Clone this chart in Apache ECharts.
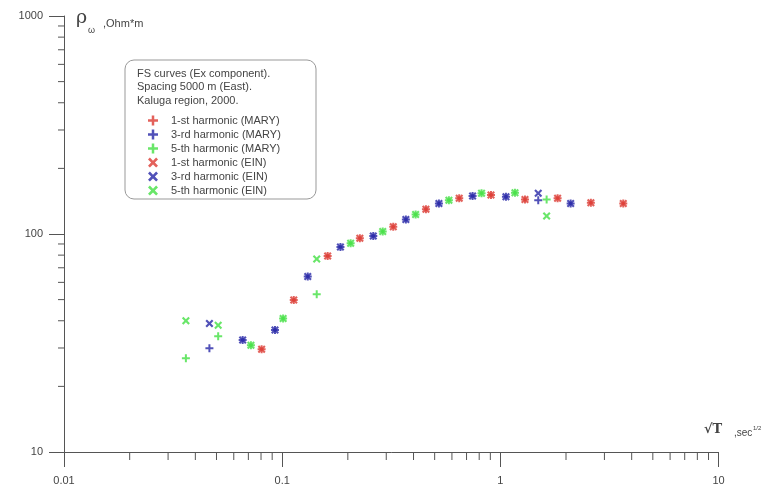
<!DOCTYPE html>
<html><head><meta charset="utf-8">
<script src="https://cdn.jsdelivr.net/npm/echarts@6/dist/echarts.min.js"></script>
<style>html,body{margin:0;padding:0;background:#fff}#c{width:770px;height:494px}</style>
</head><body><div id="c"></div>
<script>
// ---- data ----
const xTicks = [0.01, 0.1, 1, 10];
const yTicks = [10, 100, 1000];
const legendTitle = ['FS curves (Ex component).', 'Spacing 5000 m (East).', 'Kaluga region, 2000.'];
const seriesNames = ['1-st harmonic (MARY)', '3-rd harmonic (MARY)', '5-th harmonic (MARY)',
                     '1-st harmonic (EIN)', '3-rd harmonic (EIN)', '5-th harmonic (EIN)'];

const h1X    = [0.0805, 0.113, 0.1616, 0.227, 0.323, 0.456, 0.648, 0.906, 1.297, 1.83, 2.60, 3.66];
const h1Mary = [29.6, 49.8, 79.3, 95.6, 108, 130, 146, 151, 144, 146, 139, 138];
const h1Ein  = [29.6, 49.8, 79.3, 95.6, 108, 130, 146, 151, 144, 146, 139, 138];

const h3X    = [0.0464, 0.0659, 0.0927, 0.131, 0.185, 0.2616, 0.369, 0.523, 0.746, 1.061, 1.492, 2.10];
const h3Mary = [29.9, 32.6, 36.3, 63.8, 87.2, 97.9, 116.7, 138, 149.4, 148.3, 143, 138];
const h3Ein  = [38.9, 32.6, 36.3, 63.8, 87.2, 97.9, 116.7, 138, 149.4, 148.3, 153.7, 138];

const h5X    = [0.0362, 0.0509, 0.0719, 0.101, 0.144, 0.206, 0.289, 0.409, 0.581, 0.820, 1.167, 1.63];
const h5Mary = [26.9, 34.0, 30.9, 41.0, 52.9, 90.6, 102.8, 123, 143, 153.7, 154.6, 144];
const h5Ein  = [40.0, 38.1, 30.9, 41.0, 76.8, 90.6, 102.8, 123, 143, 153.7, 154.6, 121];

// ---- style ----
const RED = '#dc3a32', BLUE = '#2626a6', GREEN = '#44e044';
const PLUS = 'path://M3,0H5V3H8V5H5V8H3V5H0V3H3Z';
const CROSS = 'path://M1.5,0L4,2.5L6.5,0L8,1.5L5.5,4L8,6.5L6.5,8L4,5.5L1.5,8L0,6.5L2.5,4L0,1.5Z';
const FONT = '"Liberation Sans", Arial, sans-serif';
const AX = '#555';

function pairs(xs, ys) { return xs.map((x, i) => [x, ys[i]]); }
const seriesDefs = [
  [seriesNames[0], h1X, h1Mary, RED, PLUS],
  [seriesNames[1], h3X, h3Mary, BLUE, PLUS],
  [seriesNames[2], h5X, h5Mary, GREEN, PLUS],
  [seriesNames[3], h1X, h1Ein, RED, CROSS],
  [seriesNames[4], h3X, h3Ein, BLUE, CROSS],
  [seriesNames[5], h5X, h5Ein, GREEN, CROSS]
];

function nearestTick(v, arr) {
  let best = arr[0];
  arr.forEach(t => { if (Math.abs(Math.log10(t) - Math.log10(v)) < Math.abs(Math.log10(best) - Math.log10(v))) best = t; });
  return String(best);
}

const chart = echarts.init(document.getElementById('c'), null, {renderer: 'canvas'});
chart.setOption({
  animation: false,
  backgroundColor: '#fff',
  grid: {left: 64, right: 51.5, top: 16, bottom: 42, containLabel: false},
  xAxis: {
    type: 'log', logBase: 10, min: xTicks[0], max: xTicks[xTicks.length - 1],
    axisLine: {show: true, lineStyle: {color: AX, width: 1}},
    axisTick: {show: true, length: 15, lineStyle: {color: AX}},
    axisLabel: {margin: 23, fontSize: 11, color: '#444', fontFamily: FONT,
      formatter: v => nearestTick(v, xTicks)},
    splitLine: {show: false}, minorTick: {show: false}
  },
  yAxis: {
    type: 'log', logBase: 10, min: yTicks[0], max: yTicks[yTicks.length - 1],
    axisLine: {show: true, lineStyle: {color: AX, width: 1}},
    axisTick: {show: true, length: 15, lineStyle: {color: AX}},
    axisLabel: {margin: 21, fontSize: 11, color: '#444', fontFamily: FONT,
      formatter: v => nearestTick(v, yTicks)},
    splitLine: {show: false}, minorTick: {show: false}
  },
  legend: {
    orient: 'vertical', left: 143, top: 110, itemWidth: 10, itemHeight: 10, itemGap: 3,
    data: seriesDefs.map(d => ({name: d[0], icon: d[4]})),
    textStyle: {fontSize: 11, color: '#444', fontFamily: FONT, padding: [0, 0, 0, 8]},
    selectedMode: false
  },
  series: seriesDefs.map(d => ({
    name: d[0], type: 'scatter', data: pairs(d[1], d[2]),
    symbol: d[4], symbolSize: 8,
    itemStyle: {color: d[3]}, emphasis: {disabled: true}
  }))
});

// minor ticks + annotations using the chart's own scales
const graphics = [];
const origin = chart.convertToPixel({gridIndex: 0}, [xTicks[0], yTicks[0]]);
for (let k = 0; k < xTicks.length - 1; k++) {
  for (let m = 2; m <= 9; m++) {
    const p = chart.convertToPixel({gridIndex: 0}, [xTicks[k] * m, yTicks[0]]);
    graphics.push({type: 'line', shape: {x1: p[0], y1: origin[1], x2: p[0], y2: origin[1] + 8},
      style: {stroke: AX, lineWidth: 1}, silent: true});
  }
}
for (let k = 0; k < yTicks.length - 1; k++) {
  for (let m = 2; m <= 9; m++) {
    const p = chart.convertToPixel({gridIndex: 0}, [xTicks[0], yTicks[k] * m]);
    graphics.push({type: 'line', shape: {x1: origin[0] - 6, y1: p[1], x2: origin[0], y2: p[1]},
      style: {stroke: AX, lineWidth: 1}, silent: true});
  }
}
// legend box and header
graphics.push({type: 'rect', shape: {x: 125, y: 60, width: 191, height: 139, r: 9},
  style: {fill: 'none', stroke: '#999', lineWidth: 1}, silent: true, z: 1});
legendTitle.forEach((t, i) => graphics.push({type: 'text', x: 137, y: 68 + i * 13.5,
  style: {text: t, fontSize: 11, fill: '#444', fontFamily: FONT}, silent: true}));
// y axis name
graphics.push({type: 'text', x: 76, y: 9, style: {text: 'ρ', fontSize: 19, fill: '#444', fontFamily: '"DejaVu Serif", serif'}, silent: true});
graphics.push({type: 'text', x: 88, y: 26, style: {text: 'ω', fontSize: 9, fill: '#444', fontFamily: FONT}, silent: true});
graphics.push({type: 'text', x: 103, y: 18, style: {text: ',Ohm*m', fontSize: 11, fill: '#444', fontFamily: FONT}, silent: true});
// x axis name
graphics.push({type: 'text', x: 704, y: 423, style: {text: '√T', fontSize: 13, fontWeight: 'bold', fill: '#444', fontFamily: '"DejaVu Serif", serif'}, silent: true});
graphics.push({type: 'text', x: 734, y: 428, style: {text: ',sec', fontSize: 10, fill: '#444', fontFamily: FONT}, silent: true});
graphics.push({type: 'text', x: 753, y: 425, style: {text: '1/2', fontSize: 6, fill: '#444', fontFamily: FONT}, silent: true});
chart.setOption({graphic: graphics});
</script>
</body></html>
